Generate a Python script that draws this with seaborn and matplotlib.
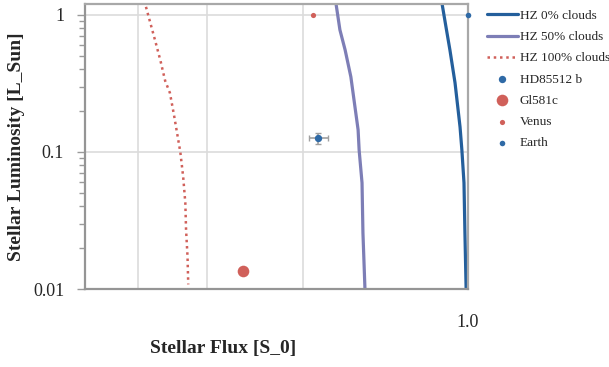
import matplotlib
matplotlib.use("Agg")
import matplotlib.pyplot as plt
import matplotlib.ticker as mticker
import seaborn as sns

# habitable zone edges: stellar flux vs stellar luminosity
hz0_flux = [1.115, 1.097, 1.079, 1.056, 1.034, 1.026, 1.017, 1.013, 1.008]
hz0_lum = [1.2, 0.817, 0.555, 0.319, 0.152, 0.103, 0.0595, 0.0257, 0.0101]

hz50_flux = [1.741, 1.713, 1.676, 1.636, 1.608, 1.587, 1.580, 1.561, 1.555, 1.542]
hz50_lum = [1.2, 0.777, 0.555, 0.353, 0.213, 0.145, 0.103, 0.0595, 0.0257, 0.0101]

hz100_flux = [3.87, 3.80, 3.72, 3.64, 3.57, 3.50, 3.44, 3.35, 3.31, 3.28, 3.27, 3.25, 3.24]
hz100_lum = [1.144, 0.874, 0.64, 0.46, 0.33, 0.27, 0.186, 0.1, 0.066, 0.0424, 0.0271, 0.0173, 0.0108]

# planets
hd_flux, hd_lum = [1.877], [0.126]
hd_flux_err, hd_lum_err = [0.075], [0.011]
gl_flux, gl_lum = [2.57], [0.0135]
venus_flux, venus_lum = [1.918], [1.0]
earth_flux, earth_lum = [1.0], [1.0]

ytick_vals = [0.01, 0.1, 1]
ytick_labels = ["0.01", "0.1", "1"]

sns.set_style("white")
plt.rcParams["font.family"] = ["Liberation Serif", "DejaVu Serif"]

fig = plt.figure(figsize=(6.09, 3.67), dpi=100)
ax = fig.add_axes([85 / 609, 1 - 289 / 367, 383 / 609, 285 / 367])

blue = "#245f9c"
purple = "#7d7eb6"
red = "#d0605a"

sns.lineplot(x=hz0_flux, y=hz0_lum, sort=False, color=blue, lw=2.3, ax=ax, label="HZ 0% clouds")
sns.lineplot(x=hz50_flux, y=hz50_lum, sort=False, color=purple, lw=2.3, ax=ax, label="HZ 50% clouds")
sns.lineplot(x=hz100_flux, y=hz100_lum, sort=False, color=red, lw=1.8, ls=(0, (1, 1.5)),
             ax=ax, label="HZ 100% clouds")

ax.errorbar(hd_flux, hd_lum, xerr=hd_flux_err, yerr=hd_lum_err, fmt="none",
            ecolor="#a0a0a0", elinewidth=1.2, capsize=2.5, zorder=3)
sns.scatterplot(x=hd_flux, y=hd_lum, color="#2f6aa6", s=28, linewidth=0, ax=ax, zorder=4, label="HD85512 b")
sns.scatterplot(x=gl_flux, y=gl_lum, color=red, s=70, linewidth=0, ax=ax, zorder=4, label="Gl581c")
sns.scatterplot(x=venus_flux, y=venus_lum, color=red, s=14, linewidth=0, ax=ax, zorder=4, label="Venus")
sns.scatterplot(x=earth_flux, y=earth_lum, color="#2f6aa6", s=16, linewidth=0, ax=ax, zorder=4,
                label="Earth", clip_on=False)

ax.set_xscale("log")
ax.set_yscale("log")
ax.set_xlim(5.0, 1.0)
ax.set_ylim(0.01, 1.2)

ax.xaxis.set_major_locator(mticker.FixedLocator([1.0]))
ax.xaxis.set_major_formatter(mticker.FixedFormatter(["1.0"]))
ax.xaxis.set_minor_locator(mticker.FixedLocator([2, 3, 4]))
ax.xaxis.set_minor_formatter(mticker.NullFormatter())
ax.yaxis.set_major_locator(mticker.FixedLocator(ytick_vals))
ax.yaxis.set_major_formatter(mticker.FixedFormatter(ytick_labels))
ax.yaxis.set_minor_locator(mticker.LogLocator(base=10, subs=range(2, 10)))
ax.yaxis.set_minor_formatter(mticker.NullFormatter())

ax.tick_params(axis="x", which="both", length=0, pad=18, labelsize=13)
ax.tick_params(axis="y", which="major", left=True, direction="out", length=6, width=1,
               color="#9a9a9a", pad=9, labelsize=13)
ax.tick_params(axis="y", which="minor", left=True, direction="out", length=4, width=1,
               color="#9a9a9a")

ax.grid(False)
ax.grid(True, axis="y", which="major", color="#dcdcdc", lw=1.2)
ax.grid(True, axis="x", which="minor", color="#dcdcdc", lw=1.2)

for side in ["left", "bottom", "top", "right"]:
    ax.spines[side].set_visible(True)
    ax.spines[side].set_color("#a8a8a8")
    ax.spines[side].set_linewidth(1.6)
ax.spines["left"].set_color("#959595")
ax.spines["bottom"].set_color("#959595")

ax.set_xlabel("Stellar Flux [S_0]", fontsize=14, fontweight="bold")
ax.set_ylabel("Stellar Luminosity [L_Sun]", fontsize=14, fontweight="bold")
ax.xaxis.set_label_coords((223 - 85) / 383, -0.18)
ax.yaxis.set_label_coords(-0.157, 0.5)

ax.legend(loc="upper left", bbox_to_anchor=(1.049, 0.98), frameon=False, fontsize=9.5,
          handlelength=2.35, handletextpad=0.15, labelspacing=0.68, borderaxespad=0,
          borderpad=0)

fig.savefig("out.png", dpi=100)
